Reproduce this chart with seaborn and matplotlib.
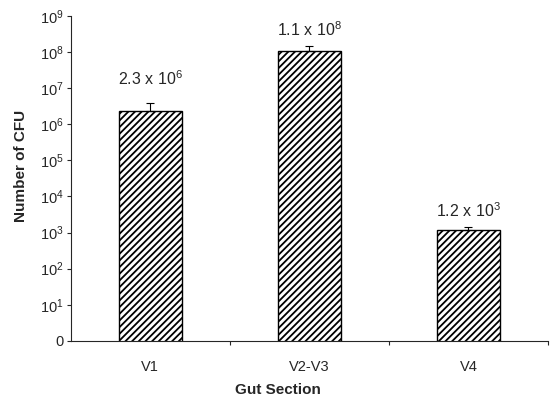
import matplotlib
matplotlib.use("Agg")
import matplotlib.pyplot as plt
import matplotlib.ticker as mticker
import numpy as np
import seaborn as sns
import pandas as pd

sections = ["V1", "V2-V3", "V4"]
cfu = [2.3e6, 1.1e8, 1.2e3]
cfu_err = [1.5e6, 0.4e8, 0.25e3]
value_labels = ["2.3 x 10$^{6}$", "1.1 x 10$^{8}$", "1.2 x 10$^{3}$"]
label_offsets = [18, 11.5, 11.5]  # points above the error bar

sns.set_style("ticks")
plt.rcParams["font.family"] = ["Liberation Sans", "DejaVu Sans"]
plt.rcParams["mathtext.fontset"] = "custom"
plt.rcParams["mathtext.rm"] = "Liberation Sans"
plt.rcParams["mathtext.it"] = "Liberation Sans:italic"
plt.rcParams["mathtext.bf"] = "Liberation Sans:bold"
plt.rcParams["mathtext.default"] = "regular"
plt.rcParams["hatch.linewidth"] = 1.3

df = pd.DataFrame({"Gut Section": sections, "CFU": cfu})

fig = plt.figure(figsize=(5.53, 4.01), dpi=100)
ax = fig.add_axes([0.128, 0.150, 0.863, 0.810])

sns.barplot(data=df, x="Gut Section", y="CFU", color="white", edgecolor="black",
            linewidth=1.0, hatch="/////", width=0.4, errorbar=None, ax=ax)
ax.set_yscale("log")
ax.set_ylim(1, 1e9)
ax.set_xlim(-0.5, 2.5)

# upper error bars only
xs = np.arange(len(sections))
ax.errorbar(xs, cfu, yerr=[np.zeros(len(cfu)), cfu_err], fmt="none",
            ecolor="black", elinewidth=0.8, capsize=3, capthick=0.8)

for x, v, e, lab, off in zip(xs, cfu, cfu_err, value_labels, label_offsets):
    ax.annotate(lab, xy=(x, v + e), xytext=(0, off), textcoords="offset points",
                ha="center", va="center", fontsize=11.5)

ax.yaxis.set_major_locator(mticker.FixedLocator([10.0 ** k for k in range(10)]))
ax.yaxis.set_minor_locator(mticker.NullLocator())
ax.yaxis.set_major_formatter(mticker.FuncFormatter(
    lambda v, p: "0" if v <= 1 else "10$^{%d}$" % round(np.log10(v))))
ax.tick_params(axis="y", length=3, width=0.8, labelsize=10.5, pad=2)

ax.set_xticks(xs)
ax.set_xticklabels(sections)
ax.set_xticks([0.5, 1.5, 2.5], minor=True)
ax.tick_params(axis="x", which="major", length=0, labelsize=10.5, pad=14)
ax.tick_params(axis="x", which="minor", length=3, width=0.8)

sns.despine(ax=ax)
ax.spines["left"].set_linewidth(0.8)
ax.spines["bottom"].set_linewidth(0.8)

ax.set_xlabel("Gut Section", fontsize=11, fontweight="bold")
ax.xaxis.set_label_coords(0.434, -0.13)
ax.set_ylabel("Number of CFU", fontsize=11, fontweight="bold")
ax.yaxis.set_label_coords(-0.09, 0.54)

fig.savefig("out.png", dpi=100)
